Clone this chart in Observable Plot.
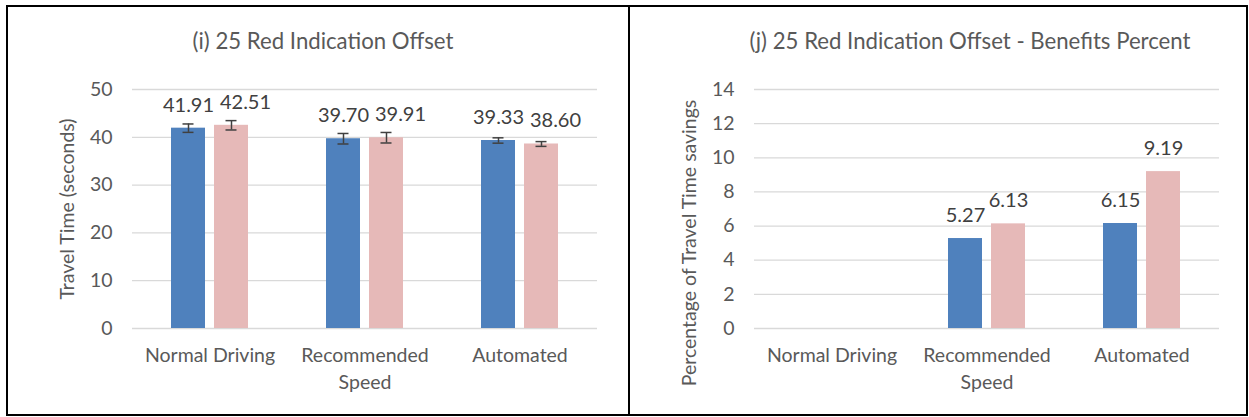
<!DOCTYPE html>
<html>
<head>
<meta charset="utf-8">
<script src="https://cdn.jsdelivr.net/npm/d3@7"></script>
<script src="https://cdn.jsdelivr.net/npm/@observablehq/plot@0.6"></script>
<style>
  body { margin: 0; background: #fff; font-family: Lato, sans-serif; }
  #page { position: relative; width: 1249px; height: 417px; overflow: hidden; }
  .panel { position: absolute; top: 5px; height: 411px; border: 2px solid #000; box-sizing: border-box; }
  #p1 { left: 6px; width: 624px; }
  #p2 { left: 628px; width: 620px; }
  .title { position: absolute; top: 29px; font-size: 22.2px; line-height: 24px; color: #595959; white-space: nowrap; transform: translateX(-50%); }
  .chart { position: absolute; top: 7px; }
</style>
</head>
<body>
<div id="page">
  <div class="panel" id="p1"></div>
  <div class="panel" id="p2"></div>
  <div class="title" id="t1" style="left:323px">(i) 25 Red Indication Offset</div>
  <div class="title" id="t2" style="left:970px">(j) 25 Red Indication Offset - Benefits Percent</div>
  <div class="chart" id="c1" style="left:8px"></div>
  <div class="chart" id="c2" style="left:630px"></div>
</div>
<script>
// ---- data ----
const categories = ["Normal Driving", "Recommended Speed", "Automated"];
const seriesNames = ["Series 1", "Series 2"];
const travelTime1 = [41.91, 39.70, 39.33];
const travelTime2 = [42.51, 39.91, 38.60];
const travelErr1 = [0.88, 1.10, 0.56];
const travelErr2 = [0.98, 1.10, 0.50];
const benefit1 = [null, 5.27, 6.15];
const benefit2 = [null, 6.13, 9.19];
const leftTicks = [0, 10, 20, 30, 40, 50];
const rightTicks = [0, 2, 4, 6, 8, 10, 12, 14];
const leftYLabel = "Travel Time (seconds)";
const rightYLabel = "Percentage of Travel Time savings";

function rowsOf(a, b, ea, eb) {
  const rows = [];
  categories.forEach((c, i) => {
    rows.push({cat: c, series: seriesNames[0], value: a[i], err: ea ? ea[i] : null});
    rows.push({cat: c, series: seriesNames[1], value: b[i], err: eb ? eb[i] : null});
  });
  return rows;
}
const leftRows = rowsOf(travelTime1, travelTime2, travelErr1, travelErr2);
const rightRows = rowsOf(benefit1, benefit2);

const catFormat = d => d === "Recommended Speed" ? "Recommended\nSpeed" : d;
const fmt = d => d.value == null ? null : d.value.toFixed(2);

function makeChart({rows, ticks, label, labelDy, width, marginRight, errors, labelShift}) {
  const marks = [
    Plot.gridY(ticks, {stroke: "#d9d9d9", strokeOpacity: 1, strokeWidth: 1.3}),
    Plot.axisY(ticks, {tickSize: 0, tickPadding: 20, fontSize: 19.5, label: null}),
    Plot.text([label], {
      fx: () => categories[0], text: d => d, frameAnchor: "left", rotate: -90,
      lineAnchor: "top", textAnchor: "middle", dx: -72, dy: labelDy,
      fontSize: 19.5, fill: "#595959"
    }),
    Plot.axisFx({anchor: "bottom", tickSize: 0, tickPadding: 14, fontSize: 19.5, lineHeight: 1.38, tickFormat: catFormat, label: null}),
    Plot.barY(rows, {fx: "cat", x: "series", y: "value", fill: "series"})
  ];
  if (errors) {
    const lo = d => d.value - d.err, hi = d => d.value + d.err;
    marks.push(
      Plot.ruleX(rows, {fx: "cat", x: "series", y1: lo, y2: hi, stroke: "#404040", strokeWidth: 1.5}),
      Plot.tickY(rows, {fx: "cat", x: "series", y: lo, insetLeft: 11.5, insetRight: 11.5, stroke: "#404040", strokeWidth: 1.5}),
      Plot.tickY(rows, {fx: "cat", x: "series", y: hi, insetLeft: 11.5, insetRight: 11.5, stroke: "#404040", strokeWidth: 1.5})
    );
  }
  seriesNames.forEach((s, k) => {
    marks.push(Plot.text(rows.filter(d => d.series === s), {
      fx: "cat", x: "series", y: "value", text: fmt, dy: -23, dx: k === 1 ? labelShift : 0,
      fontSize: 20, fill: "#404040"
    }));
  });
  return Plot.plot({
    width, height: 407,
    marginLeft: 123, marginRight, marginTop: 82, marginBottom: 86,
    style: {fontFamily: "Lato, sans-serif", fontSize: "20px", color: "#595959", background: "transparent", overflow: "visible"},
    fx: {domain: categories, padding: 0, label: null},
    x: {domain: seriesNames, paddingInner: 0.2045, paddingOuter: 0.867, axis: null},
    y: {domain: [ticks[0], ticks[ticks.length - 1]], label: null},
    color: {domain: seriesNames, range: ["#4f81bd", "#e6b9b8"]},
    marks
  });
}

document.getElementById("c1").appendChild(makeChart({rows: leftRows, ticks: leftTicks, label: leftYLabel, labelDy: 0, width: 620, marginRight: 31, errors: true, labelShift: 14}));
document.getElementById("c2").appendChild(makeChart({rows: rightRows, ticks: rightTicks, label: rightYLabel, labelDy: 34, width: 616, marginRight: 27, errors: false, labelShift: 0}));
</script>
</body>
</html>
